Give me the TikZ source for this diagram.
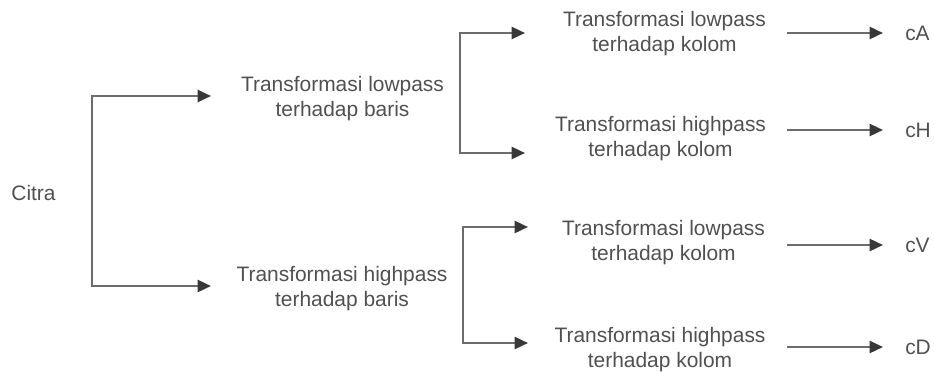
\documentclass[tikz,border=0pt]{standalone}
\usepackage{fontspec}
\setmainfont{Liberation Sans}
\usepackage{tikz}
\usetikzlibrary{arrows.meta, calc, positioning}
\definecolor{line_gray}{RGB}{108,108,108}
\definecolor{tip_gray}{RGB}{56,56,56}
\definecolor{text_gray}{RGB}{80,80,80}
\tikzset{
    steplabel/.style={
        text=text_gray, align=center, inner sep=0pt,
        font={\fontsize{15.7}{18.75}\selectfont}
    },
    outlabel/.style={
        text=text_gray, anchor=west, inner xsep=16.5pt, inner ysep=0pt,
        font={\fontsize{15.7}{18.75}\selectfont}
    },
    flow/.style={
        draw=line_gray, line width=1.8pt,
        -{Triangle[length=10pt, width=9pt, color=tip_gray]}
    },
}

\begin{document}
\begin{tikzpicture}[x=0.75pt, y=-0.75pt]
    \useasboundingbox (0,0) rectangle (934,371);

    % input and row transforms
    \node[steplabel] (citra) at (33.5,193.5) {Citra};
    \node[steplabel] (lowrow) at (342.5,99) {Transformasi lowpass\\terhadap baris};
    \node[steplabel] (highrow) at (342,289) {Transformasi highpass\\terhadap baris};

    % column transforms
    \node[steplabel] (lowlow) at (664.5,34) {Transformasi lowpass\\terhadap kolom};
    \node[steplabel] (lowhigh) at (660.5,139) {Transformasi highpass\\terhadap kolom};
    \node[steplabel] (highlow) at (663.5,242.7) {Transformasi lowpass\\terhadap kolom};
    \node[steplabel] (highhigh) at (660,350) {Transformasi highpass\\terhadap kolom};

    % coefficients
    \node[outlabel] (cA) at (883,33) {cA};
    \node[outlabel] (cH) at (883,130) {cH};
    \node[outlabel] (cV) at (883,245) {cV};
    \node[outlabel] (cD) at (883,347) {cD};

    % split points and arrow ends
    \coordinate (split0) at (92,193);
    \coordinate (split1) at (460,93);
    \coordinate (split2) at (463,285);
    \coordinate (lowrow_in) at (211,96);
    \coordinate (highrow_in) at (211,286);
    \coordinate (lowlow_in) at (525,33);
    \coordinate (lowhigh_in) at (525,153);
    \coordinate (highlow_in) at (528,227);
    \coordinate (highhigh_in) at (528,343);
    \coordinate (lowlow_out) at (787,33);
    \coordinate (lowhigh_out) at (787,130);
    \coordinate (highlow_out) at (787,245);
    \coordinate (highhigh_out) at (787,347);

    \draw[flow] (split0) |- (lowrow_in);
    \draw[flow] (split0) |- (highrow_in);
    \draw[flow] (split1) |- (lowlow_in);
    \draw[flow] (split1) |- (lowhigh_in);
    \draw[flow] (split2) |- (highlow_in);
    \draw[flow] (split2) |- (highhigh_in);

    \draw[flow] (lowlow_out) -- (cA);
    \draw[flow] (lowhigh_out) -- (cH);
    \draw[flow] (highlow_out) -- (cV);
    \draw[flow] (highhigh_out) -- (cD);
\end{tikzpicture}
\end{document}
